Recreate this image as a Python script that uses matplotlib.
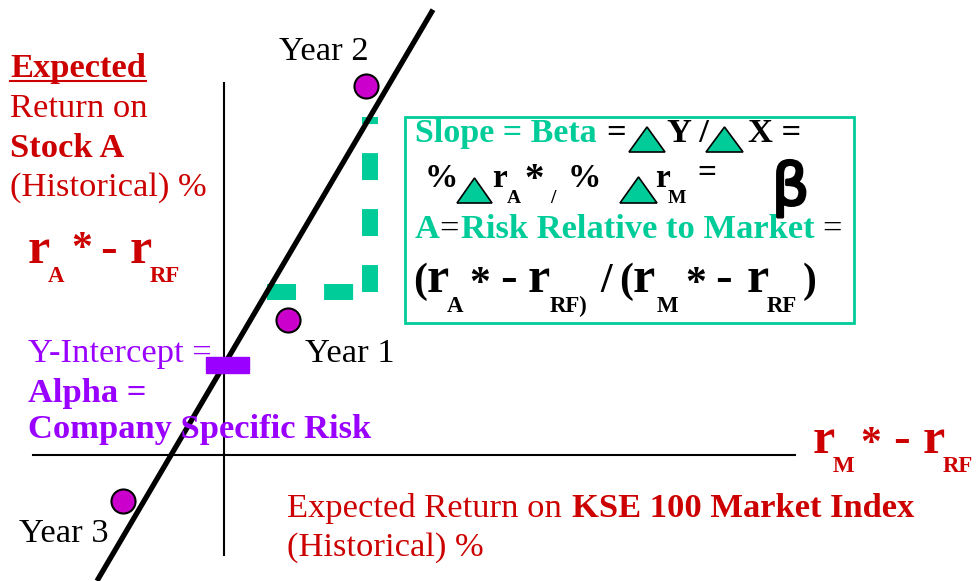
import matplotlib
matplotlib.use("Agg")
import matplotlib.pyplot as plt
import matplotlib.patheffects as pe
from matplotlib.patches import Polygon, Rectangle

# diagram data (market excess return vs stock excess return, 1 unit = 10 px)
years = ["Year 1", "Year 2", "Year 3"]
market_ret = [6.4, 14.2, -10.1]
stock_ret = [13.5, 36.9, -4.6]
alpha = 9.0
beta = 1.70
line_x = [-12.7, 20.9]
leg_x = [4.3, 14.6]          # x ends of the rise/run triangle
axis_x = [-19.1, 57.1]
axis_y = [-10.0, 37.2]

RED = "#cc0000"
PURPLE = "#9900ff"
TEAL = "#00cc99"
MAGENTA = "#cc00cc"
SERIF = "Liberation Serif"

plt.rcParams["lines.scale_dashes"] = False

fig = plt.figure(figsize=(9.76, 5.81), dpi=100)
ax = fig.add_axes([0, 0, 1, 1])
ax.set_xlim(-22.4, 75.2)
ax.set_ylim(-12.6, 45.5)
ax.axis("off")

# axes cross
ax.plot(axis_x, [0, 0], color="black", lw=1.5)
ax.plot([0, 0], axis_y, color="black", lw=1.5)

# rise / run dashed legs
y1 = alpha + beta * leg_x[0]
y2 = alpha + beta * leg_x[1]
h, = ax.plot(leg_x, [y1, y1], color=TEAL, lw=11.5, solid_capstyle="butt")
h.set_dashes((20.9, 20.2))
h.set_dash_capstyle("butt")
v, = ax.plot([leg_x[1], leg_x[1]], [y1, y2], color=TEAL, lw=11.5)
v.set_dashes((19.4, 20.9))
v.set_dash_capstyle("butt")

# regression line
ax.plot(line_x, [alpha + beta * x for x in line_x], color="black", lw=3.8,
        solid_capstyle="butt", zorder=3)

# alpha marker
ax.add_patch(Rectangle((-1.8, alpha - 0.8), 4.3, 1.6, color=PURPLE, zorder=4))

# yearly points
ax.scatter(market_ret, stock_ret, s=300, color=MAGENTA, edgecolor="black",
           linewidth=1.5, zorder=5)

# text overlay in pixel coordinates
tx = fig.add_axes([0, 0, 1, 1])
tx.set_xlim(0, 976)
tx.set_ylim(581, 0)
tx.axis("off")
tx.patch.set_alpha(0)


def put(x, y, s, size=24.8, weight="normal", color="black", family=SERIF):
    return tx.text(x, y, s, fontsize=size, fontweight=weight, color=color,
                   family=family, va="baseline", ha="left")


# y-axis label
put(10, 77, "Expected", weight="bold", color=RED)
tx.plot([10, 146], [81, 81], color=RED, lw=1.5)
put(10, 117, "Return on", color=RED)
put(10, 157, "Stock A", weight="bold", color=RED)
put(10, 196, "(Historical) %", color=RED)

BIG = 36
SUB = 16.5
STAR = 30

# r_A* - r_RF
put(28, 263, "r", BIG, "bold", RED)
put(48, 282, "A", SUB, "bold", RED)
put(71, 260, "*", STAR, "bold", RED)
put(100, 263, "-", BIG, "bold", RED)
put(130, 263, "r", BIG, "bold", RED)
put(150, 282, "RF", SUB, "bold", RED)

# r_M* - r_RF
put(813, 453, "r", BIG, "bold", RED)
put(833, 472, "M", SUB, "bold", RED)
put(860, 455, "*", STAR, "bold", RED)
put(893, 453, "-", BIG, "bold", RED)
put(923, 453, "r", BIG, "bold", RED)
put(943, 472, "RF", SUB, "bold", RED)

# x-axis label
put(287, 517, "Expected Return on", color=RED)
put(572, 517, "KSE 100 Market Index", weight="bold", color=RED)
put(287, 556, "(Historical) %", color=RED)

# year labels
put(279, 60, years[1])
put(305, 362, years[0])
put(19, 542, years[2])

# alpha labels
put(28, 362, "Y-Intercept =", color=PURPLE)
put(28, 402, "Alpha =", weight="bold", color=PURPLE)
put(28, 438, "Company Specific Risk", weight="bold", color=PURPLE)

# beta box
tx.add_patch(Rectangle((405, 117), 449, 206, fill=False, edgecolor=TEAL, lw=2))


def tri(x0, x1, ybase, ytop):
    tx.add_patch(Polygon([[x0, ybase], [x1, ybase], [(x0 + x1) / 2, ytop]],
                         closed=True, facecolor=TEAL, edgecolor="black", lw=1.2))


put(415, 142, "Slope = Beta", 24.5, weight="bold", color=TEAL)
put(606, 142, "=", weight="bold")
tri(629, 665, 152, 127)
put(667, 142, "Y /", weight="bold")
tri(706, 743, 152, 127)
put(748, 142, "X =", weight="bold")

put(425, 187, "%", 24, "bold")
tri(457, 492, 203, 178)
put(492, 187, "r", 24, "bold")
put(507, 203, "A", 14, "bold")
put(524, 190, "*", 28, "bold")
put(550, 203, "/", 14, "bold")
put(568, 187, "%", 24, "bold")
tri(620, 657, 203, 177)
put(655, 187, "r", 24, "bold")
put(668, 203, "M", 14, "bold")
put(697, 182, "=", 24, "bold")
b = put(772, 205, "β", 42, family="DejaVu Sans")
b.set_path_effects([pe.withStroke(linewidth=2, foreground="black")])

put(415, 238, "A", weight="bold", color=TEAL)
put(439, 238, "=")
put(461, 238, "Risk Relative to Market", weight="bold", color=TEAL)
put(822, 238, "=")

put(413, 292, "(", 30, "bold")
put(427, 292, "r", BIG, "bold")
put(447, 312, "A", SUB, "bold")
put(469, 295, "*", STAR, "bold")
put(500, 292, "-", BIG, "bold")
put(528, 292, "r", BIG, "bold")
put(550, 312, "RF)", SUB, "bold")
put(600, 292, "/", 30, "bold")
put(619, 292, "(", 30, "bold")
put(633, 292, "r", BIG, "bold")
put(657, 312, "M", SUB, "bold")
put(685, 295, "*", STAR, "bold")
put(715, 292, "-", BIG, "bold")
put(747, 292, "r", BIG, "bold")
put(767, 312, "RF", SUB, "bold")
put(803, 292, ")", 30, "bold")

fig.savefig("out.png", dpi=100)
